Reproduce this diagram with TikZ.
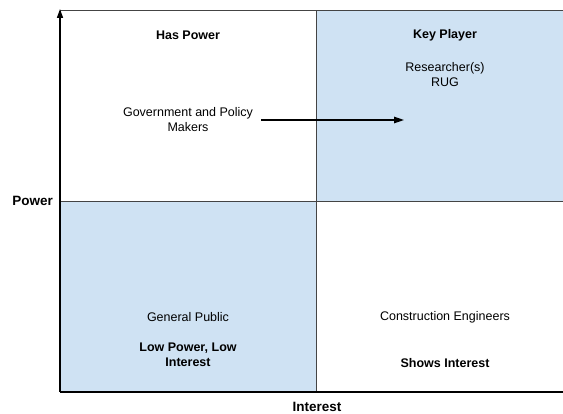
\documentclass[tikz,border=0pt]{standalone}
\usepackage{fontspec}
\setmainfont{Liberation Sans}
\usetikzlibrary{arrows.meta}
\definecolor{quadblue}{HTML}{CFE2F3}
\definecolor{gridline}{HTML}{444444}
\begin{document}
\begin{tikzpicture}[x=1pt,y=-1pt,
  quad/.style={draw=gridline, line width=0.8pt, inner sep=0pt,
    minimum width=256pt, minimum height=191pt},
  quadwide/.style={quad, minimum width=247pt},
  label/.style={inner sep=0pt, align=center, font=\fontsize{12.5}{15}\selectfont},
  title/.style={label, font=\fontsize{12.5}{15}\selectfont\bfseries},
  axistext/.style={inner sep=0pt, font=\fontsize{13.5}{16}\selectfont\bfseries},
  axis/.style={line width=1.6pt, black},
  move/.style={line width=1.2pt, black, -{Triangle[length=10pt,width=6.5pt]}}]
\useasboundingbox (0,0) rectangle (563,414);

% four quadrants of the power/interest grid
\node[quad, fill=white] (hp) at (188,105.5) {};
\node[quadwide, fill=quadblue] (kp) at (439.5,105.5) {};
\node[quad, fill=quadblue] (lp) at (188,296.5) {};
\node[quadwide, fill=white] (si) at (439.5,296.5) {};

% axes
\coordinate (o) at (60,392);
\coordinate (ytop) at (60,9);
\coordinate (xend) at (563,392);
\draw[axis, -{Triangle[length=9pt,width=6pt]}] (o) -- (ytop);
\draw[axis] (o) -- (xend);

% quadrant titles
\node[title] (thp) at (188,35) {Has Power};
\node[title] (tkp) at (445,35) {Key Player};
\node[title] (tlp) at (188,355) {Low Power, Low\\Interest};
\node[title] (tsi) at (445,363) {Shows Interest};

% stakeholders
\node[label] (gov) at (188,119.5) {Government and Policy\\Makers};
\node[label] (res) at (445,74.5) {Researcher(s)\\RUG};
\node[label] (pub) at (188,317) {General Public};
\node[label] (eng) at (445,317) {Construction Engineers};

% movement of government towards key player
\coordinate (target) at (404,120);
\draw[move] ([xshift=8pt]gov.east |- target) -- (target);

% axis labels
\node[axistext, anchor=east] (pw) at (53,201) {Power};
\node[axistext] (it) at (317,407) {Interest};
\end{tikzpicture}
\end{document}
